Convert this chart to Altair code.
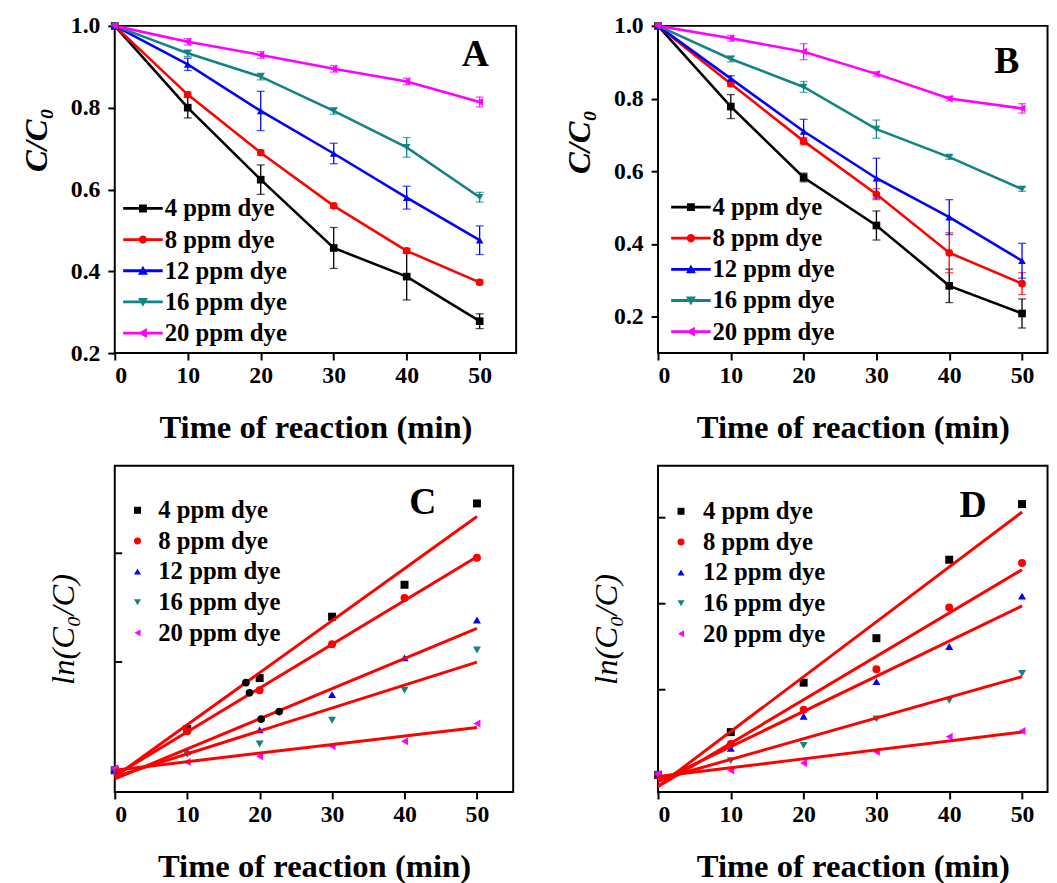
import altair as alt
import pandas as pd

# ---------------- data ----------------
time = [0, 10, 20, 30, 40, 50]
series = ["4 ppm dye", "8 ppm dye", "12 ppm dye", "16 ppm dye", "20 ppm dye"]
colors = ["#000000", "#ff0000", "#0000ff", "#138383", "#ff00ff"]

# Panel A  (C/C0)
A_4 = [1.0, 0.800, 0.624, 0.457, 0.387, 0.278]
A_8 = [1.0, 0.832, 0.690, 0.560, 0.450, 0.373]
A_12 = [1.0, 0.906, 0.792, 0.688, 0.580, 0.476]
A_16 = [1.0, 0.933, 0.876, 0.792, 0.703, 0.581]
A_20 = [1.0, 0.961, 0.929, 0.895, 0.864, 0.814]
A_err_4 = [0, 0.025, 0.036, 0.050, 0.057, 0.018]
A_err_8 = [0, 0.006, 0.006, 0.006, 0.006, 0.006]
A_err_12 = [0, 0.015, 0.048, 0.025, 0.028, 0.035]
A_err_16 = [0, 0.008, 0.008, 0.008, 0.024, 0.012]
A_err_20 = [0, 0.008, 0.008, 0.008, 0.008, 0.012]

# Panel B  (C/C0)
B_4 = [1.0, 0.778, 0.583, 0.451, 0.285, 0.209]
B_8 = [1.0, 0.841, 0.683, 0.537, 0.376, 0.291]
B_12 = [1.0, 0.855, 0.710, 0.581, 0.474, 0.354]
B_16 = [1.0, 0.909, 0.832, 0.716, 0.639, 0.551]
B_20 = [1.0, 0.966, 0.929, 0.868, 0.800, 0.773]
B_err_4 = [0, 0.033, 0.012, 0.040, 0.046, 0.040]
B_err_8 = [0, 0.008, 0.010, 0.015, 0.055, 0.030]
B_err_12 = [0, 0.008, 0.033, 0.055, 0.048, 0.048]
B_err_16 = [0, 0.008, 0.015, 0.025, 0.006, 0.006]
B_err_20 = [0, 0.008, 0.022, 0.006, 0.006, 0.013]

# Panel C  (ln(C0/C))
C_4 = [0.0, 0.19, 0.424, 0.706, 0.853, 1.227]
C_8 = [0.0, 0.18, 0.368, 0.580, 0.792, 0.977]
C_12 = [0.005, 0.085, 0.186, 0.348, 0.517, 0.691]
C_16 = [0.0, 0.073, 0.121, 0.230, 0.368, 0.553]
C_20 = [0.009, 0.038, 0.065, 0.111, 0.133, 0.215]
C_fit_start = [-0.03, -0.025, -0.04, -0.03, 0.0]
C_fit_end = [1.167, 0.982, 0.652, 0.497, 0.197]
C_extra_x = [18.1, 18.6, 20.2, 22.7]
C_extra_y = [0.403, 0.356, 0.235, 0.270]

# Panel D  (ln(C0/C))
D_4 = [0.0, 0.249, 0.537, 0.796, 1.253, 1.577]
D_8 = [0.0, 0.18, 0.379, 0.615, 0.975, 1.234]
D_12 = [0.005, 0.155, 0.341, 0.543, 0.748, 1.041]
D_16 = [0.0, 0.082, 0.172, 0.326, 0.434, 0.591]
D_20 = [0.005, 0.025, 0.069, 0.134, 0.222, 0.255]
D_fit_start = [-0.067, -0.068, -0.04, -0.03, -0.01]
D_fit_end = [1.531, 1.195, 0.984, 0.572, 0.249]

fit_x = [0, 50]
x_ticks = [0, 10, 20, 30, 40, 50]
y_ticks_decay = [0.2, 0.4, 0.6, 0.8, 1.0]

# ---------------- style ----------------
FONT = "Liberation Serif"
LEG_FS = 25
marker_shapes = ["square", "circle", "triangle-up", "triangle-down", "triangle-left"]
LINE = "M-2,-0.14H2V0.14H-2Z "
legend_paths = [
    LINE + "M-0.4,-0.4H0.4V0.4H-0.4Z",
    LINE + "M-0.42,0A0.42,0.42 0 1 1 0.42,0A0.42,0.42 0 1 1 -0.42,0Z",
    LINE + "M0,-0.5L0.5,0.4H-0.5Z",
    LINE + "M0,0.5L-0.5,-0.4H0.5Z",
    LINE + "M-0.5,0L0.4,-0.5V0.5Z",
]

col_scale = alt.Scale(domain=series, range=colors)


def x_enc(xmax):
    return alt.X(
        "t:Q",
        scale=alt.Scale(domain=[0, xmax], nice=False, zero=False),
        axis=alt.Axis(values=x_ticks, format="d", title="Time of reaction (min)",
                      labelPadding=4, titlePadding=24),
    )


def letter_title(letter, dx, dy):
    return alt.TitleParams(letter, anchor="start", frame="group", orient="top",
                           offset=0, dx=dx, dy=dy, baseline="alphabetic",
                           font=FONT, fontSize=38, fontWeight="bold", color="black")


def make_legend(lx, ly, loff, size, row_gap):
    return alt.Legend(orient="none", legendX=lx, legendY=ly, title=None, padding=0,
                      labelFont=FONT, labelFontSize=LEG_FS, labelFontWeight="bold",
                      labelColor="black", symbolSize=size, symbolStrokeWidth=0,
                      symbolOpacity=1, rowPadding=row_gap - LEG_FS, labelOffset=loff)


def decay_panel(vals, errs, ymin, xmax, width, letter, tdx, tdy, lx, ly, loff, ty):
    rows = []
    for s, v, e in zip(series, vals, errs):
        for t, c, ee in zip(time, v, e):
            rows.append({"t": t, "series": s, "c": c, "err": ee, "lo": c - ee, "hi": c + ee})
    df = pd.DataFrame(rows)
    yaxis = alt.Axis(values=y_ticks_decay, format=".1f", title="C/C₀",
                     titleFontStyle="italic", labelPadding=8, titlePadding=17, titleY=ty)
    yscale = alt.Scale(domain=[ymin, 1.0], nice=False, zero=False)
    x = x_enc(xmax)
    y = alt.Y("c:Q", scale=yscale, axis=yaxis)
    base = alt.Chart(df)
    layers = []
    for s, col, shp in zip(series, colors, marker_shapes):
        sb = base.transform_filter(alt.datum.series == s)
        eb = sb.transform_filter("datum.err > 0")
        layers.append(sb.mark_line(strokeWidth=2.6, color=col).encode(x=x, y=y))
        layers.append(eb.mark_rule(strokeWidth=1.3, color=col).encode(
            x=x, y=alt.Y("lo:Q", scale=yscale, axis=yaxis), y2="hi:Q"))
        layers.append(eb.transform_fold(["lo", "hi"], as_=["k", "v"]).mark_tick(
            orient="horizontal", size=8, thickness=1.3, color=col).encode(
            x=x, y=alt.Y("v:Q", scale=yscale, axis=yaxis)))
    for s, col, shp in zip(series, colors, marker_shapes):
        layers.append(base.transform_filter(alt.datum.series == s).mark_point(
            filled=True, size=60, opacity=1, shape=shp, color=col).encode(x=x, y=y))
    leg = make_legend(lx, ly, loff, 400, 30.5)
    layers.append(base.transform_filter("false").mark_point(filled=True, opacity=1).encode(
        x=x, y=y,
        shape=alt.Shape("series:N", scale=alt.Scale(domain=series, range=legend_paths), legend=leg),
        color=alt.Color("series:N", scale=col_scale, legend=leg)))
    return alt.layer(*layers).properties(
        width=width, height=331, title=letter_title(letter, tdx, tdy))


def ln_panel(vals, fs, fe, ymin, ymax, yt, xmax, width, letter, tdx, tdy, lx, ly, loff,
             extra_x=None, extra_y=None):
    rows = []
    for s, v in zip(series, vals):
        for t, c in zip(time, v):
            rows.append({"t": t, "series": s, "c": c})
    df = pd.DataFrame(rows)
    frows = []
    for s, a, b in zip(series, fs, fe):
        frows.append({"t": fit_x[0], "series": s, "c": a})
        frows.append({"t": fit_x[1], "series": s, "c": b})
    fdf = pd.DataFrame(frows)
    yaxis = alt.Axis(values=yt, labels=False, title="ln(C₀/C)", titleFontStyle="italic",
                     titleFontWeight="normal", offset=-7, titlePadding=34)
    yscale = alt.Scale(domain=[ymin, ymax], nice=False, zero=False)
    x = x_enc(xmax)
    y = alt.Y("c:Q", scale=yscale, axis=yaxis)
    leg = make_legend(lx, ly, loff, 50, 30.0)
    pts = alt.Chart(df).mark_point(filled=True, size=65, opacity=1).encode(
        x=x, y=y,
        shape=alt.Shape("series:N", scale=alt.Scale(domain=series, range=marker_shapes), legend=leg),
        color=alt.Color("series:N", scale=col_scale, legend=leg))
    fits = alt.Chart(fdf).mark_line(color="#ff0000", strokeWidth=3).encode(
        x=x, y=y, detail="series:N")
    layers = [pts, fits]
    if extra_x is not None:
        edf = pd.DataFrame({"t": extra_x, "c": extra_y})
        layers.append(alt.Chart(edf).mark_circle(color="black", size=60, opacity=1).encode(x=x, y=y))
    return alt.layer(*layers).properties(
        width=width, height=330, title=letter_title(letter, tdx, tdy))


pA = decay_panel([A_4, A_8, A_12, A_16, A_20],
                 [A_err_4, A_err_8, A_err_12, A_err_16, A_err_20],
                 0.2, 55, 406, "A", 351, 91, 16.0, 172.2, 9.5, 115)
pB = decay_panel([B_4, B_8, B_12, B_16, B_20],
                 [B_err_4, B_err_8, B_err_12, B_err_16, B_err_20],
                 0.1, 53.5, 394, "B", 340, 98, 20.8, 170.8, 9.2, 117)
pC = ln_panel([C_4, C_8, C_12, C_16, C_20], C_fit_start, C_fit_end,
              -0.1, 1.4, [0.5, 1.0], 55, 403, "C", 298, 87, 10.5, 32.5, 8.5,
              C_extra_x, C_extra_y)
pD = ln_panel([D_4, D_8, D_12, D_16, D_20], D_fit_start, D_fit_end,
              -0.1, 1.8, [0.5, 1.0, 1.5], 53.5, 394, "D", 305, 90, 10.8, 33.5, 9.8)

RES = dict(color="independent", shape="independent")

chart = alt.concat(pA, pB, pC, pD, columns=2, bounds="flush",
                   spacing={"row": 114, "column": 143.5}).resolve_scale(**RES).properties(
    padding={"left": 12, "top": 0, "right": 0, "bottom": 0}
).configure_view(stroke="black", strokeWidth=2).configure_axis(
    grid=False, domain=False, ticks=True, tickSize=7, tickWidth=2, tickColor="black",
    labelFont=FONT, labelFontSize=24, labelFontWeight="bold", labelColor="black",
    titleFont=FONT, titleFontSize=33, titleFontWeight="bold", titleColor="black",
)

chart.save("out.html", embed_options={"renderer": "svg", "actions": False})
